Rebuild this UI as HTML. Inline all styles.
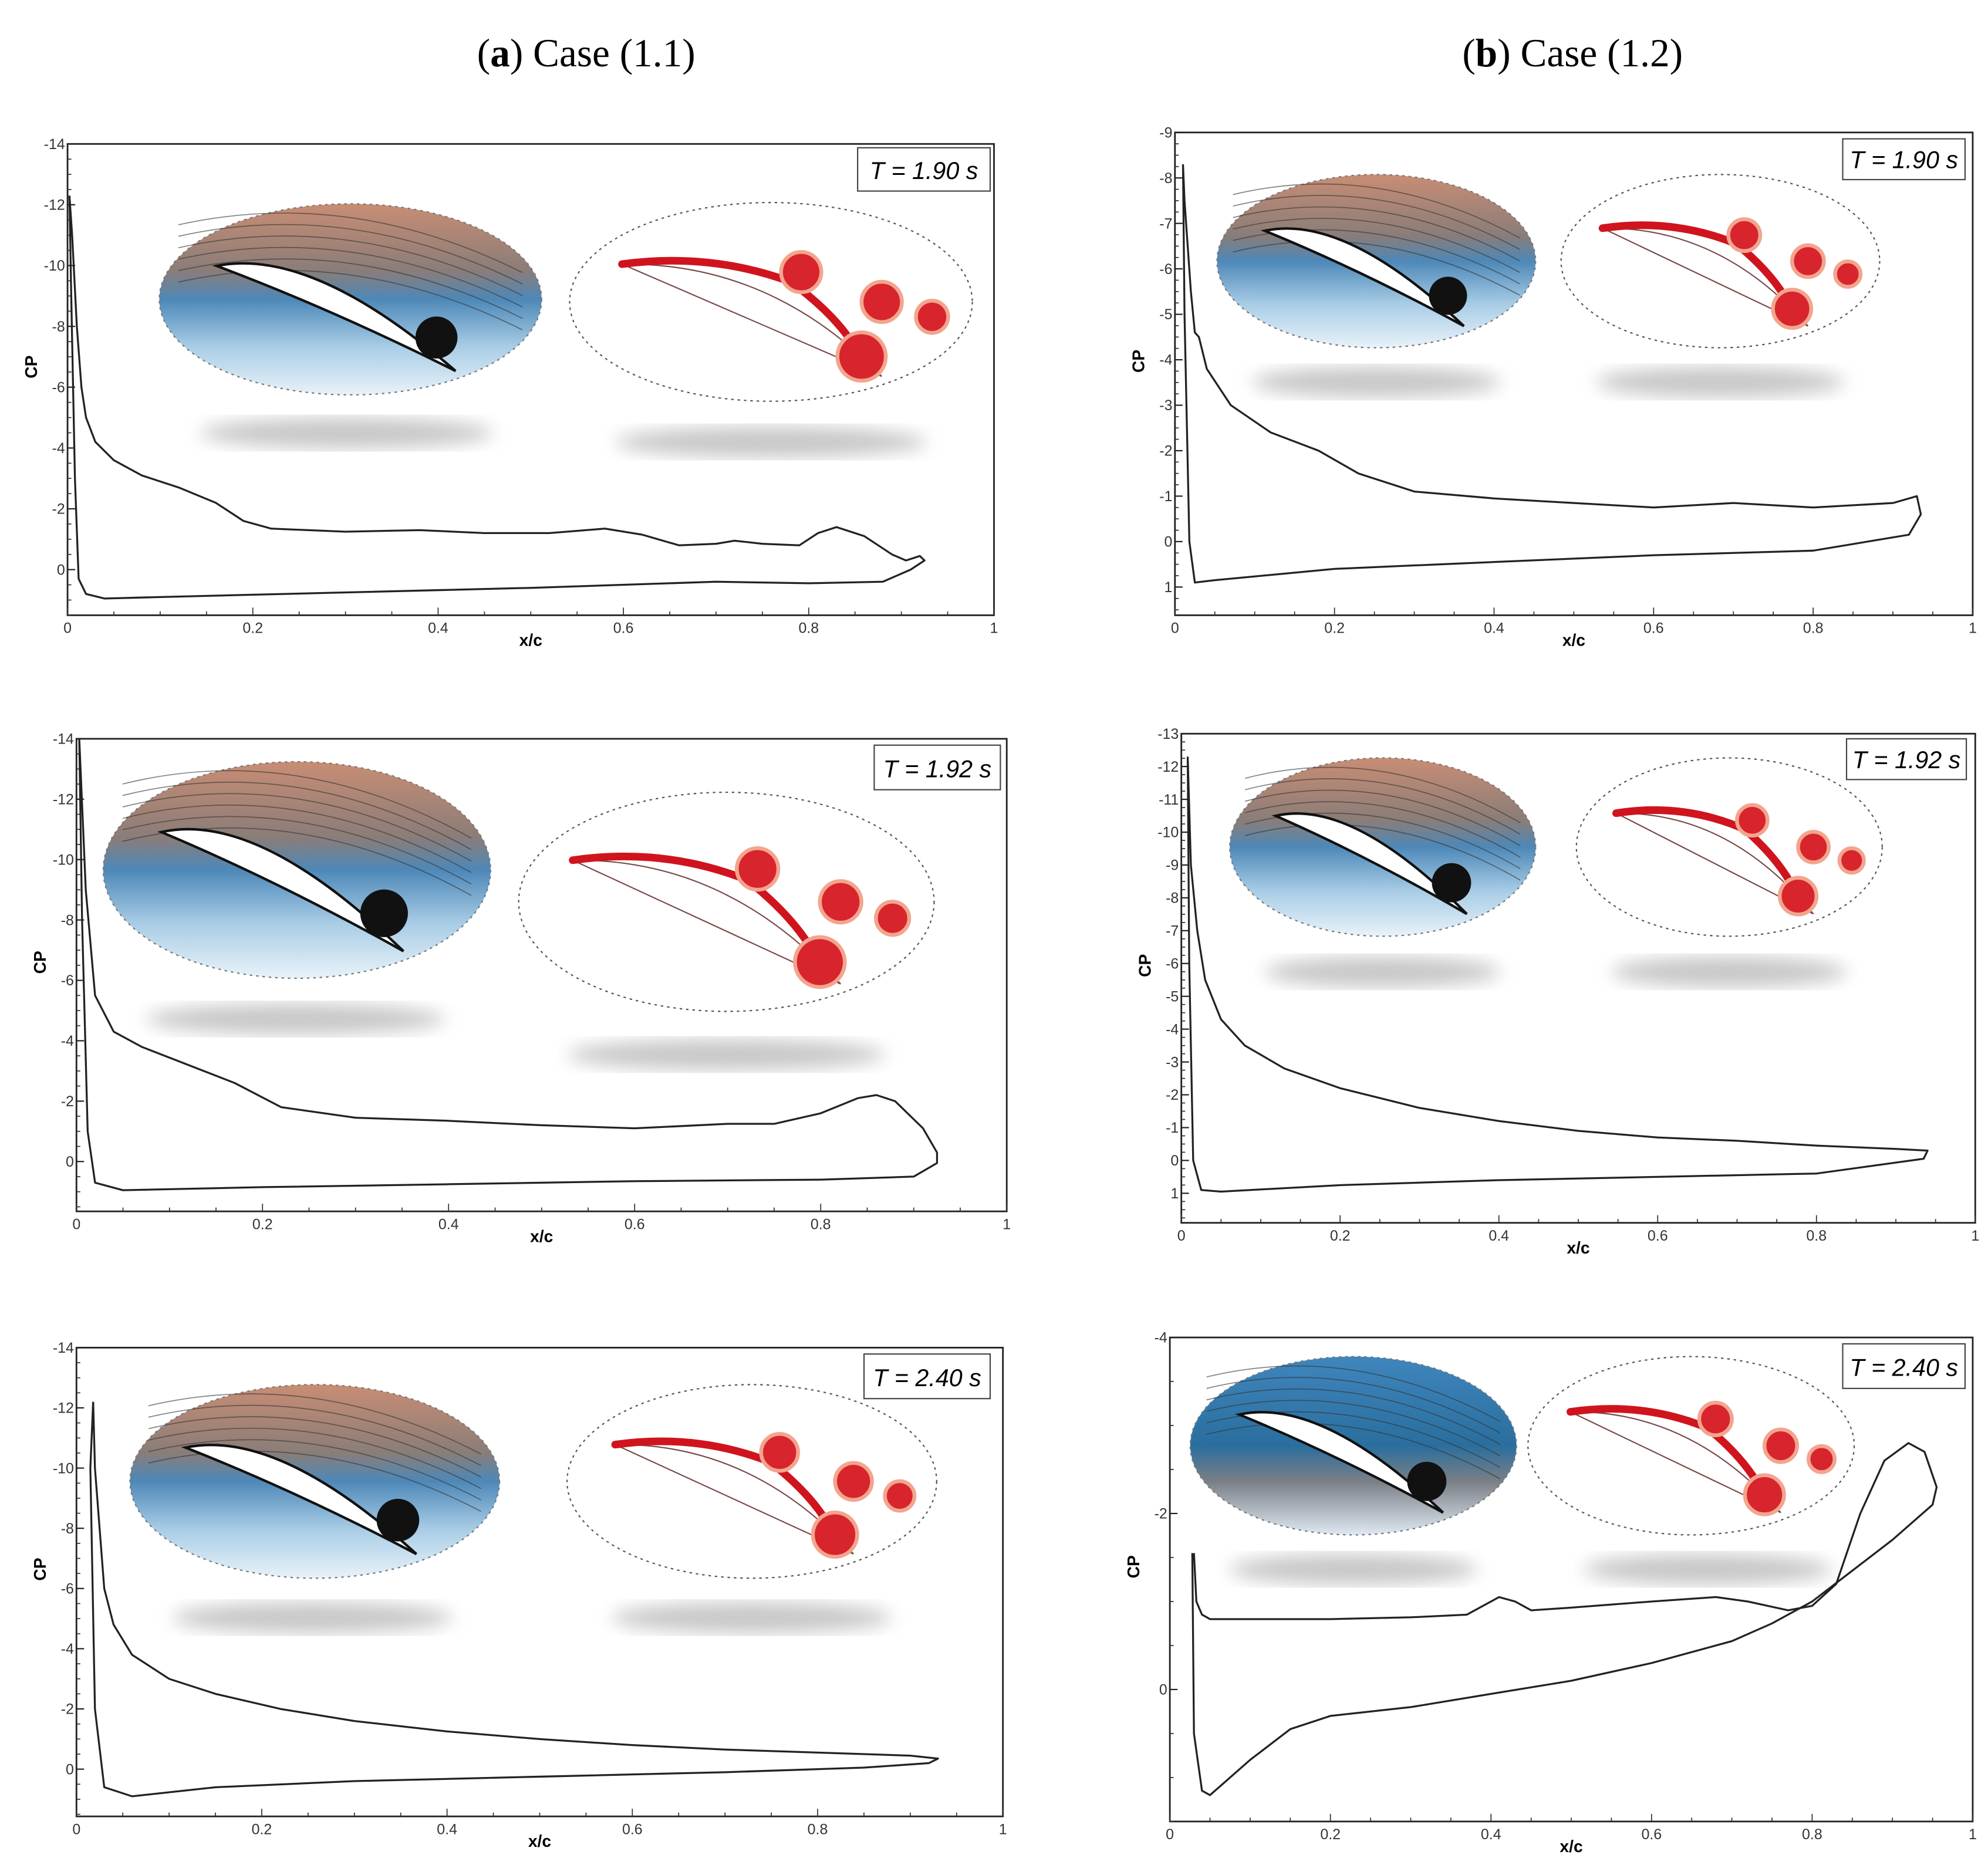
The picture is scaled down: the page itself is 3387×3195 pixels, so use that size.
<!DOCTYPE html>
<html><head><meta charset="utf-8"><style>
html,body{margin:0;padding:0;background:#fff;}
svg{display:block;font-family:"Liberation Sans",sans-serif;}
</style></head><body>
<svg id="fig" width="3387" height="3195" viewBox="0 0 1560 1472" preserveAspectRatio="none" xmlns="http://www.w3.org/2000/svg">
<defs>
<linearGradient id="gStream" x1="0" y1="0" x2="0" y2="1">
<stop offset="0" stop-color="#c98d74"/><stop offset="0.35" stop-color="#8a7d78"/><stop offset="0.5" stop-color="#4d88b8"/><stop offset="0.75" stop-color="#a9cde6"/><stop offset="1" stop-color="#e8f2f9"/></linearGradient>
<linearGradient id="gBlue" x1="0" y1="0" x2="0" y2="1">
<stop offset="0" stop-color="#3f86bd"/><stop offset="0.5" stop-color="#2a6e9e"/><stop offset="0.7" stop-color="#7a7f86"/><stop offset="1" stop-color="#dfe9f1"/></linearGradient>
<filter id="blur"><feGaussianBlur stdDeviation="7"/></filter>
</defs>
<text x="460" y="52" font-family="Liberation Serif" font-size="31" text-anchor="middle">(<tspan font-weight="bold">a</tspan>) Case (1.1)</text>
<text x="1234" y="52" font-family="Liberation Serif" font-size="31" text-anchor="middle">(<tspan font-weight="bold">b</tspan>) Case (1.2)</text>
<g id="panels"></g>
</svg>
<script>
// ---- data (x/c, Cp) for each panel, closed loop upper then lower ----
const a1X = [0.002,0.005,0.01,0.015,0.02,0.03,0.05,0.08,0.12,0.16,0.19,0.22,0.3,0.38,0.45,0.52,0.58,0.62,0.66,0.7,0.72,0.75,0.79,0.81,0.83,0.86,0.89,0.905,0.92,0.925,0.91,0.88,0.8,0.7,0.5,0.3,0.1,0.04,0.02,0.012,0.008,0.004,0.002];
const a1Cp = [-12.3,-11,-8,-6,-5,-4.2,-3.6,-3.1,-2.7,-2.2,-1.6,-1.35,-1.25,-1.3,-1.2,-1.2,-1.35,-1.15,-0.8,-0.85,-0.95,-0.85,-0.8,-1.2,-1.4,-1.1,-0.5,-0.3,-0.45,-0.3,0,0.4,0.45,0.4,0.6,0.75,0.9,0.95,0.8,0.3,-3,-9,-12.3];
const a2X = [0.003,0.01,0.02,0.04,0.07,0.12,0.17,0.22,0.3,0.4,0.5,0.6,0.7,0.75,0.8,0.84,0.86,0.88,0.91,0.925,0.925,0.9,0.8,0.6,0.4,0.2,0.05,0.02,0.012,0.006,0.003];
const a2Cp = [-14,-9,-5.5,-4.3,-3.8,-3.2,-2.6,-1.8,-1.45,-1.35,-1.2,-1.1,-1.25,-1.25,-1.6,-2.1,-2.2,-2.0,-1.1,-0.3,0.05,0.5,0.6,0.65,0.75,0.85,0.95,0.7,-1,-8,-14];
const a3X = [0.018,0.02,0.03,0.04,0.06,0.1,0.15,0.22,0.3,0.4,0.5,0.6,0.7,0.8,0.9,0.93,0.92,0.85,0.7,0.5,0.3,0.15,0.06,0.03,0.02,0.015,0.018];
const a3Cp = [-12.2,-10,-6,-4.8,-3.8,-3,-2.5,-2.0,-1.6,-1.25,-1.0,-0.8,-0.65,-0.55,-0.45,-0.35,-0.2,-0.05,0.1,0.25,0.4,0.6,0.9,0.6,-2,-10,-12.2];
const b1X = [0.01,0.012,0.02,0.025,0.03,0.04,0.07,0.12,0.18,0.23,0.3,0.4,0.5,0.6,0.7,0.8,0.9,0.93,0.935,0.92,0.8,0.6,0.4,0.2,0.05,0.025,0.018,0.012,0.01];
const b1Cp = [-8.3,-7.5,-5.5,-4.6,-4.5,-3.8,-3,-2.4,-2.0,-1.5,-1.1,-0.95,-0.85,-0.75,-0.85,-0.75,-0.85,-1.0,-0.6,-0.15,0.2,0.3,0.45,0.6,0.85,0.9,0,-5,-8.3];
const b2X = [0.008,0.012,0.02,0.03,0.05,0.08,0.13,0.2,0.3,0.4,0.5,0.6,0.7,0.8,0.9,0.94,0.935,0.8,0.6,0.4,0.2,0.05,0.025,0.015,0.01,0.008];
const b2Cp = [-12.3,-9,-7,-5.5,-4.3,-3.5,-2.8,-2.2,-1.6,-1.2,-0.9,-0.7,-0.6,-0.45,-0.35,-0.3,-0.05,0.4,0.5,0.6,0.75,0.95,0.9,0,-6,-12.3];
const b3X = [0.03,0.033,0.04,0.05,0.1,0.2,0.3,0.37,0.4,0.41,0.43,0.45,0.5,0.6,0.68,0.72,0.77,0.8,0.83,0.86,0.89,0.92,0.94,0.955,0.95,0.9,0.85,0.8,0.75,0.7,0.6,0.5,0.4,0.3,0.2,0.15,0.1,0.05,0.04,0.03,0.028];
const b3Cp = [-1.55,-1.0,-0.85,-0.8,-0.8,-0.8,-0.82,-0.85,-1.0,-1.05,-1.0,-0.9,-0.93,-1.0,-1.05,-1.0,-0.9,-0.95,-1.2,-2.0,-2.6,-2.8,-2.7,-2.3,-2.1,-1.7,-1.35,-1.0,-0.75,-0.55,-0.3,-0.1,0.05,0.2,0.3,0.45,0.8,1.2,1.15,0.5,-1.55];
const a1Ticks = [-14,-12,-10,-8,-6,-4,-2,0];
const a2Ticks = [-14,-12,-10,-8,-6,-4,-2,0];
const a3Ticks = [-14,-12,-10,-8,-6,-4,-2,0];
const b1Ticks = [-9,-8,-7,-6,-5,-4,-3,-2,-1,0,1];
const b2Ticks = [-13,-12,-11,-10,-9,-8,-7,-6,-5,-4,-3,-2,-1,0,1];
const b3Ticks = [-4,-2,0];
const xTickLabels = ["0","0.2","0.4","0.6","0.8","1"];
const xTickValues = [0,0.2,0.4,0.6,0.8,1];

const panels = [
 {id:'a1',X:a1X,Y:a1Cp,ticks:a1Ticks,x0:53,x1:780,y0:113,y1:483,ymin:-14,ymax:1.5,minor:0.5,T:'T = 1.90 s',tb:[673,116,104,34],
  L:[275,235,150,75],R:[605,237,158,78],S1:[272,340,230],S2:[605,347,245],style:'brown'},
 {id:'a2',X:a2X,Y:a2Cp,ticks:a2Ticks,x0:60,x1:790,y0:580,y1:951,ymin:-14,ymax:1.65,minor:0.5,T:'T = 1.92 s',tb:[686,585,99,35],
  L:[233,683,152,85],R:[570,708,163,86],S1:[232,800,235],S2:[570,828,250],style:'brown'},
 {id:'a3',X:a3X,Y:a3Cp,ticks:a3Ticks,x0:60,x1:787,y0:1058,y1:1426,ymin:-14,ymax:1.57,minor:0.5,T:'T = 2.40 s',tb:[678,1063,99,35],
  L:[247,1163,145,76],R:[590,1163,145,76],S1:[245,1270,220],S2:[590,1270,220],style:'brown'},
 {id:'b1',X:b1X,Y:b1Cp,ticks:b1Ticks,x0:922,x1:1548,y0:104,y1:483,ymin:-9,ymax:1.62,minor:0.25,T:'T = 1.90 s',tb:[1446,109,96,32],
  L:[1080,205,125,68],R:[1350,205,125,68],S1:[1080,300,195],S2:[1350,300,195],style:'brown'},
 {id:'b2',X:b2X,Y:b2Cp,ticks:b2Ticks,x0:927,x1:1550,y0:576,y1:960,ymin:-13,ymax:1.9,minor:0.25,T:'T = 1.92 s',tb:[1449,580,94,32],
  L:[1085,665,120,70],R:[1357,665,120,70],S1:[1085,763,185],S2:[1357,763,185],style:'brown'},
 {id:'b3',X:b3X,Y:b3Cp,ticks:b3Ticks,x0:918,x1:1548,y0:1050,y1:1430,ymin:-4,ymax:1.5,minor:0.5,T:'T = 2.40 s',tb:[1446,1055,96,35],
  L:[1062,1135,128,70],R:[1327,1135,128,70],S1:[1062,1232,195],S2:[1340,1232,195],style:'blue'}
];
const NS='http://www.w3.org/2000/svg';
const root=document.getElementById('panels');
function mk(tag,attrs,parent){const e=document.createElementNS(NS,tag);for(const k in attrs)e.setAttribute(k,attrs[k]);(parent||root).appendChild(e);return e;}

panels.forEach(p=>{
 const g=mk('g',{});
 
 
 const xs=v=>p.x0+(p.x1-p.x0)*v;
 const ys=v=>p.y0+(p.y1-p.y0)*(v-(p.ticks[0]))/(p.ymax-p.ticks[0]);
 [p.S1,p.S2].forEach(s=>{
  const sh=mk('ellipse',{cx:s[0],cy:s[1],rx:s[2]/2,ry:12,fill:'#9a9a9a',opacity:0.55,filter:'url(#blur)'},g);
  
  
 });
 const L=p.L;
 const le=mk('ellipse',{cx:L[0],cy:L[1],rx:L[2],ry:L[3],fill:p.style==='blue'?'url(#gBlue)':'url(#gStream)',stroke:'#777','stroke-dasharray':'2 3','stroke-width':1},g);
 
 
 for(let i=1;i<7;i++){
  const ln=mk('path',{d:`M${L[0]-L[2]*0.9},${L[1]-L[3]*0.9+i*9} Q${L[0]},${L[1]-L[3]*1.3+i*9} ${L[0]+L[2]*0.9},${L[1]-L[3]*0.4+i*9}`,stroke:'#333','stroke-width':0.8,fill:'none',opacity:0.6},g);
  
  
 }
 const af=mk('path',{d:`M${L[0]-L[2]*0.7},${L[1]-L[3]*0.35} Q${L[0]-L[2]*0.2},${L[1]-L[3]*0.55} ${L[0]+L[2]*0.55},${L[1]+L[3]*0.75} Q${L[0]-L[2]*0.1},${L[1]+L[3]*0.1} ${L[0]-L[2]*0.7},${L[1]-L[3]*0.35}Z`,fill:'#fff',stroke:'#111','stroke-width':2},g);
 
 
 const vx=mk('circle',{cx:L[0]+L[2]*0.45,cy:L[1]+L[3]*0.4,r:L[3]*0.22,fill:'#111'},g);
 
 
 const R=p.R;
 const re=mk('ellipse',{cx:R[0],cy:R[1],rx:R[2],ry:R[3],fill:'#fff',stroke:'#555','stroke-dasharray':'2 3','stroke-width':1},g);
 
 
 const ra=mk('path',{d:`M${R[0]-R[2]*0.74},${R[1]-R[3]*0.38} L${R[0]+R[2]*0.55},${R[1]+R[3]*0.75} M${R[0]-R[2]*0.74},${R[1]-R[3]*0.38} Q${R[0]},${R[1]-R[3]*0.4} ${R[0]+R[2]*0.55},${R[1]+R[3]*0.75}`,stroke:'#7a4a4a','stroke-width':1,fill:'none'},g);
 
 
 const rs=mk('path',{d:`M${R[0]-R[2]*0.74},${R[1]-R[3]*0.38} Q${R[0]-R[2]*0.3},${R[1]-R[3]*0.5} ${R[0]+R[2]*0.1},${R[1]-R[3]*0.2} Q${R[0]+R[2]*0.3},${R[1]+R[3]*0.1} ${R[0]+R[2]*0.4},${R[1]+R[3]*0.4}`,stroke:'#d0141e','stroke-width':6,fill:'none','stroke-linecap':'round'},g);
 
 
 [[0.15,-0.3,0.1],[0.45,0.55,0.12],[0.55,0.0,0.1],[0.8,0.15,0.08]].forEach(b=>{
  const bl=mk('circle',{cx:R[0]+R[2]*b[0],cy:R[1]+R[3]*b[1],r:R[2]*b[2],fill:'#d8242c',stroke:'#f2a58f','stroke-width':3},g);
  
  
 });
 const box=mk('rect',{x:p.x0,y:p.y0,width:p.x1-p.x0,height:p.y1-p.y0,fill:'none',stroke:'#222','stroke-width':1.3},g);
 
 
 const t0=p.ticks[0];
 for(let v=t0; v<=p.ymax+1e-9; v+=p.minor){
  const mt=mk('line',{x1:p.x0,x2:p.x0+3,y1:ys(v),y2:ys(v),stroke:'#333','stroke-width':0.8},g);
  
  
 }
 p.ticks.forEach(v=>{
  const tk=mk('line',{x1:p.x0,x2:p.x0+6,y1:ys(v),y2:ys(v),stroke:'#222','stroke-width':1},g);
  
  
  const tl=mk('text',{x:p.x0-2,y:ys(v)+4,'font-size':11.5,'text-anchor':'end',fill:'#333'},g);
  tl.textContent=String(v);
  
  
 });
 for(let i=0;i<=20;i++){
  const mt=mk('line',{x1:xs(i/20),x2:xs(i/20),y1:p.y1,y2:p.y1-(i%4===0?6:3),stroke:'#333','stroke-width':0.8},g);
  
  
 }
 xTickValues.forEach((v,i)=>{
  const tl=mk('text',{x:xs(v),y:p.y1+14,'font-size':11.5,'text-anchor':'middle',fill:'#333'},g);
  tl.textContent=xTickLabels[i];
  
  
 });
 const xl=mk('text',{x:(p.x0+p.x1)/2,y:p.y1+24,'font-size':13,'font-weight':'bold','text-anchor':'middle'},g);
 xl.textContent='x/c';
 
 
 const cy=(p.y0+p.y1)/2-10;
 const yl=mk('text',{x:p.x0-24,y:cy,'font-size':13,'font-weight':'bold','text-anchor':'middle',transform:`rotate(-90 ${p.x0-24} ${cy})`},g);
 yl.textContent='CP';
 
 
 let d='';
 p.X.forEach((x,i)=>{d+=(i?'L':'M')+xs(x).toFixed(1)+','+ys(p.Y[i]).toFixed(1);});
 const c=mk('path',{d:d,fill:'none',stroke:'#222','stroke-width':1.5,'stroke-linejoin':'round'},g);
 
 
 const tb=p.tb;
 const tr=mk('rect',{x:tb[0],y:tb[1],width:tb[2],height:tb[3],fill:'#fff',stroke:'#444','stroke-width':1},g);
 
 
 const tt=mk('text',{x:tb[0]+tb[2]/2,y:tb[1]+tb[3]*0.72,'font-size':19,'font-style':'italic','text-anchor':'middle'},g);
 tt.textContent=p.T;
 
 
});
</script>
</body></html>
